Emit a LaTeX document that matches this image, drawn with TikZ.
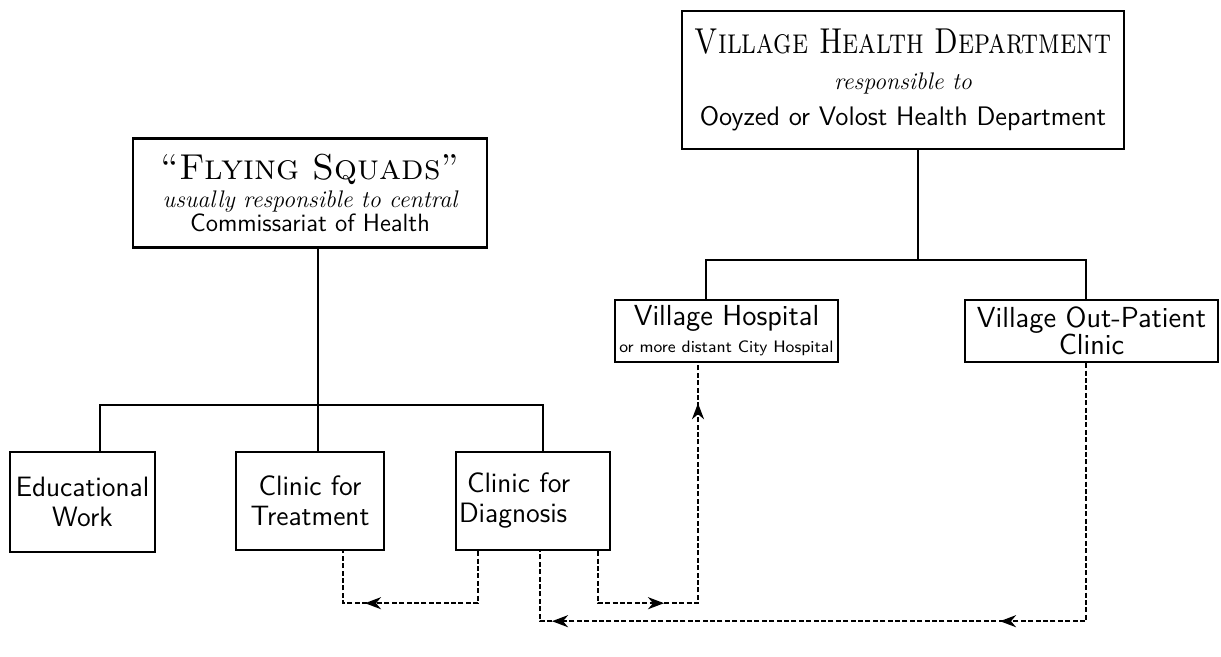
\documentclass[tikz,border=0pt]{standalone}
\usepackage{graphicx}
\usepackage{tikz}
\usetikzlibrary{positioning, calc, arrows.meta, decorations.markings}

\newcommand{\headsc}{\rmfamily\scshape\fontsize{18}{20}\selectfont}
\newcommand{\smallit}{\rmfamily\itshape\fontsize{12}{13}\selectfont}
\newcommand{\flowtip}{\arrow{Stealth[length=8pt,width=6pt,inset=2.5pt]}}

\tikzset{
  unit/.style={draw, line width=1.2pt, align=center, inner sep=1pt,
    font=\sffamily\fontsize{14}{15}\selectfont},
  tie/.style={line width=1pt},
  flow/.style={line width=1.1pt, dash pattern=on 2.5pt off 1.2pt,
    decoration={markings, #1}, postaction={decorate}},
}

\begin{document}
\begin{tikzpicture}[x=0.5pt, y=-0.5pt]
  \useasboundingbox (0,0) rectangle (1221,657);

  % village side
  \node[unit, minimum width=221pt, minimum height=69pt,
        font=\sffamily\fontsize{13.4}{18}\selectfont] (vhd) at (903,80)
    {\scalebox{0.8}[1]{\headsc Village Health Department}\\{\smallit responsible to}\\Ooyzed or Volost Health Department};
  \node[unit, minimum width=111.5pt, minimum height=31pt,
        font=\sffamily\fontsize{14.5}{13.5}\selectfont] (hosp) at (726.5,331)
    {Village Hospital\\{\fontsize{8.3}{9}\selectfont or more distant City Hospital}};
  \node[unit, minimum width=126.5pt, minimum height=31pt,
        font=\sffamily\fontsize{14.5}{13.5}\selectfont] (outp) at (1091.5,331)
    {Village Out-Patient\\Clinic};

  % flying squads side
  \node[unit, minimum width=177pt, minimum height=54.5pt,
        font=\sffamily\fontsize{12.5}{11}\selectfont] (fs) at (310,193)
    {{\headsc ``Flying Squads''}\\[3pt]{\fontsize{12.5}{11}\smallit usually responsible to central}\\Commissariat of Health};
  \node[unit, minimum width=72.5pt, minimum height=50pt] (edu) at (82.5,502) {Educational\\Work};
  \node[unit, minimum width=74pt, minimum height=49pt] (treat) at (310,501) {Clinic for\\Treatment};
  \node[unit, minimum width=77pt, minimum height=49pt, align=left, text width=74pt] (diag) at (533,501)
    {\hspace{4pt}Clinic for\\Diagnosis};

  % tree lines
  \draw[tie] ([xshift=7.5pt]vhd.south) -- ++(0,110) coordinate (vhdbar);
  \draw[tie] ([xshift=-10.25pt]hosp.north) |- (vhdbar) -| ([xshift=-2.75pt]outp.north);
  \draw[tie] ([xshift=4pt]fs.south) -- ++(0,156) coordinate (fsbar);
  \draw[tie] ([xshift=8.75pt]edu.north) |- (fsbar) -| ([xshift=5pt]diag.north);
  \draw[tie] ([xshift=4pt]treat.north) -- (fsbar);

  % referrals
  \draw[flow={mark=at position 82.5pt with {\flowtip}}]
    ([xshift=-27.5pt]diag.south) -- ++(0,52) -| ([xshift=16.5pt]treat.south);
  \draw[flow={mark=at position 59pt with {\flowtip}, mark=at position 176pt with {\flowtip}}]
    ([xshift=32.5pt]diag.south) -- ++(0,52) -| ([xshift=-14.25pt]hosp.south);
  \draw[flow={mark=at position 172pt with {\flowtip}, mark=at position 396pt with {\flowtip}}]
    ([xshift=-2.75pt]outp.south) -- ++(0,258) -| ([xshift=3.5pt]diag.south);
\end{tikzpicture}
\end{document}
